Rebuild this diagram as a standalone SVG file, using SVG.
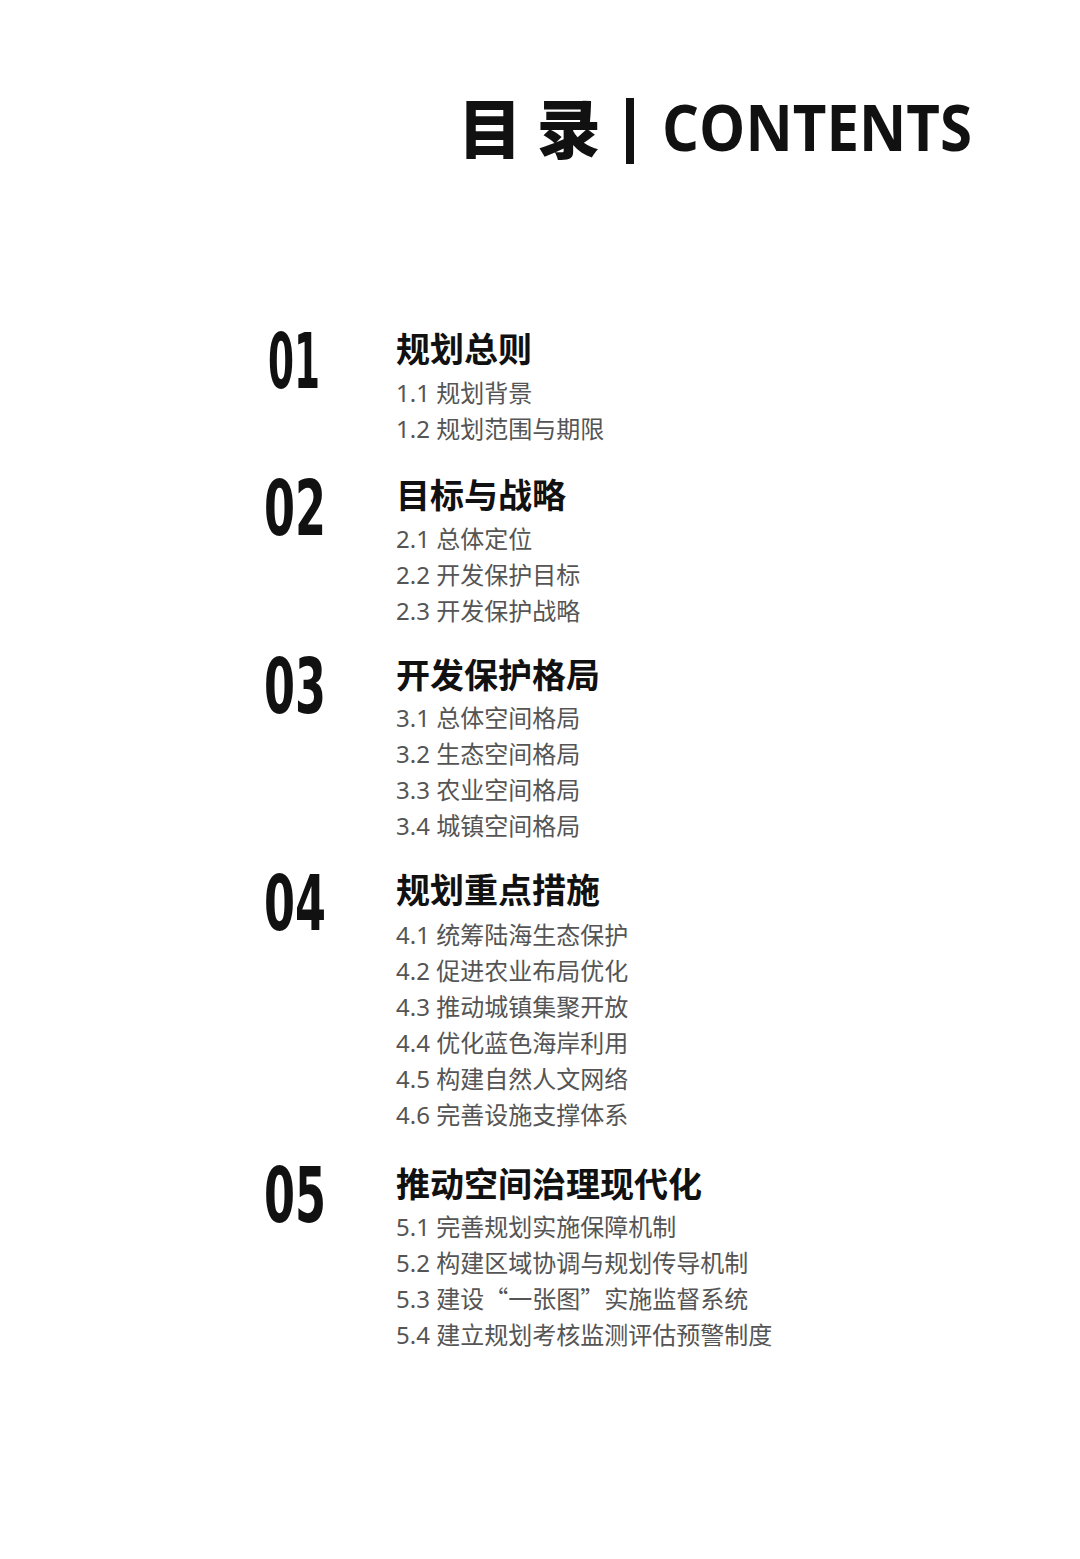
<svg xmlns="http://www.w3.org/2000/svg" width="1080" height="1559" viewBox="0 0 1080 1559">
<style>
.num{font-family:"DejaVu Sans Condensed","DejaVu Sans",sans-serif;font-weight:700;font-size:76px;fill:#111}
.h{font-family:"Noto Sans CJK SC",sans-serif;font-weight:700;font-size:34px;fill:#111}
.s{font-family:"Noto Sans","Noto Sans CJK SC",sans-serif;font-size:24px;fill:#555}
.q{font-family:"Noto Sans CJK SC",sans-serif}
</style>
<rect width="1080" height="1559" fill="#fff"/>
<g id="title">
<text x="458" y="153" font-family="Noto Sans CJK SC,sans-serif" font-weight="900" font-size="64" fill="#111">目 录</text>
<rect x="626" y="98" width="8" height="66" fill="#111"/>
<text x="662" y="151" font-family="Open Sans,sans-serif" font-weight="700" font-size="64" fill="#111" textLength="310" lengthAdjust="spacingAndGlyphs">CONTENTS</text>
</g>
<g id="s1">
<text class="num" x="268" y="388" textLength="52" lengthAdjust="spacingAndGlyphs">01</text>
<text class="h" x="396" y="362">规划总则</text>
<text class="s" x="396" y="402">1.1 规划背景</text>
<text class="s" x="396" y="438">1.2 规划范围与期限</text>
</g>
<g id="s2">
<text class="num" x="264" y="535" textLength="62" lengthAdjust="spacingAndGlyphs">02</text>
<text class="h" x="396" y="508">目标与战略</text>
<text class="s" x="396" y="548">2.1 总体定位</text>
<text class="s" x="396" y="584">2.2 开发保护目标</text>
<text class="s" x="396" y="620">2.3 开发保护战略</text>
</g>
<g id="s3">
<text class="num" x="264" y="713" textLength="62" lengthAdjust="spacingAndGlyphs">03</text>
<text class="h" x="396" y="688">开发保护格局</text>
<text class="s" x="396" y="727">3.1 总体空间格局</text>
<text class="s" x="396" y="763">3.2 生态空间格局</text>
<text class="s" x="396" y="799">3.3 农业空间格局</text>
<text class="s" x="396" y="835">3.4 城镇空间格局</text>
</g>
<g id="s4">
<text class="num" x="264" y="930" textLength="62" lengthAdjust="spacingAndGlyphs">04</text>
<text class="h" x="396" y="903">规划重点措施</text>
<text class="s" x="396" y="944">4.1 统筹陆海生态保护</text>
<text class="s" x="396" y="980">4.2 促进农业布局优化</text>
<text class="s" x="396" y="1016">4.3 推动城镇集聚开放</text>
<text class="s" x="396" y="1052">4.4 优化蓝色海岸利用</text>
<text class="s" x="396" y="1088">4.5 构建自然人文网络</text>
<text class="s" x="396" y="1124">4.6 完善设施支撑体系</text>
</g>
<g id="s5">
<text class="num" x="264" y="1222" textLength="62" lengthAdjust="spacingAndGlyphs">05</text>
<text class="h" x="396" y="1197">推动空间治理现代化</text>
<text class="s" x="396" y="1236">5.1 完善规划实施保障机制</text>
<text class="s" x="396" y="1272">5.2 构建区域协调与规划传导机制</text>
<text class="s" x="396" y="1308">5.3 建设<tspan class="q">“</tspan>一张图<tspan class="q">”</tspan>实施监督系统</text>
<text class="s" x="396" y="1344">5.4 建立规划考核监测评估预警制度</text>
</g>
<g id="connectors"/>
</svg>
